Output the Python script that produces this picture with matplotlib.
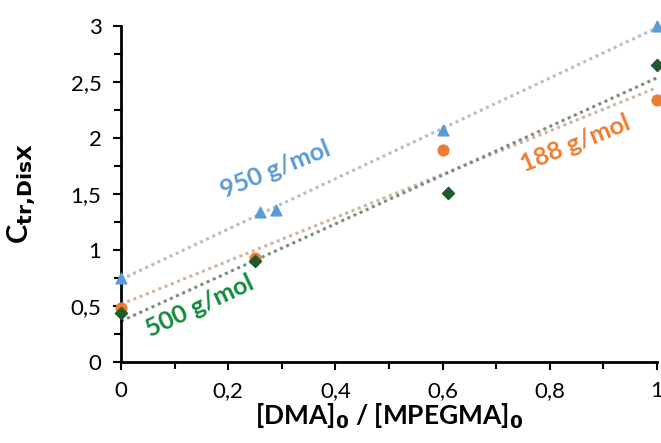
import matplotlib
matplotlib.use("Agg")
import matplotlib.pyplot as plt
from matplotlib.ticker import MultipleLocator, FuncFormatter
import numpy as np

plt.rcParams['font.family'] = ['Lato', 'DejaVu Sans']

# Données
x_950 = [0, 0.26, 0.29, 0.6, 1.0]
y_950 = [0.75, 1.34, 1.36, 2.07, 3.0]
x_188 = [0, 0.25, 0.6, 1.0]
y_188 = [0.48, 0.93, 1.89, 2.34]
x_500 = [0, 0.25, 0.61, 1.0]
y_500 = [0.44, 0.90, 1.51, 2.65]

blue = '#5B9BD5'
orange = '#ED7D31'
green_mk = '#1F5A2E'
green_txt = '#128A3C'

fig = plt.figure(figsize=(6.61, 4.43), dpi=100)
ax = fig.add_axes([0.183, 0.183, 0.811, 0.758])

# droites de tendance (régression linéaire)
xx = np.array([0, 1.0])
for xs, ys, c in [(x_950, y_950, '#B3BFCB'), (x_188, y_188, '#D1B39E'), (x_500, y_500, '#7D8C80')]:
    p = np.polyfit(xs, ys, 1)
    ax.plot(xx, np.polyval(p, xx), ls=(0, (1, 1.2)), lw=2.2, color=c, zorder=1)

ax.scatter(x_950, y_950, marker='^', s=60, color=blue, zorder=3, clip_on=False)
ax.scatter(x_188, y_188, marker='o', s=60, color=orange, zorder=3, clip_on=False)
ax.scatter(x_500, y_500, marker='D', s=38, color=green_mk, zorder=4, clip_on=False)

ax.text(0.18, 1.72, '950 g/mol', color=blue, fontsize=18, fontweight='bold',
        rotation=22, ha='left', va='center')
ax.text(0.74, 1.95, '188 g/mol', color=orange, fontsize=18, fontweight='bold',
        rotation=22, ha='left', va='center')
ax.text(0.04, 0.50, '500 g/mol', color=green_txt, fontsize=18, fontweight='bold',
        rotation=25, ha='left', va='center')

ax.set_xlim(0, 1)
ax.set_ylim(0, 3)
ax.xaxis.set_major_locator(MultipleLocator(0.2))
ax.xaxis.set_minor_locator(MultipleLocator(0.1))
ax.yaxis.set_major_locator(MultipleLocator(0.5))
ax.yaxis.set_minor_locator(MultipleLocator(0.25))

fmt = FuncFormatter(lambda v, pos: ('%g' % round(v, 2)).replace('.', ','))
ax.xaxis.set_major_formatter(fmt)
ax.yaxis.set_major_formatter(fmt)

for s in ['top', 'right']:
    ax.spines[s].set_visible(False)
for s in ['left', 'bottom']:
    ax.spines[s].set_linewidth(2)
ax.tick_params(which='major', direction='out', length=6, width=1.5, labelsize=16, pad=8)
ax.tick_params(which='minor', direction='out', length=5, width=1.5)

ax.set_xlabel(r'[DMA]$_\mathbf{0}$ / [MPEGMA]$_\mathbf{0}$', fontsize=19, fontweight='bold', labelpad=0)
ax.set_ylabel(r'C$_\mathbf{tr{,}DisX}$', fontsize=21, fontweight='bold')
ax.yaxis.set_label_coords(-0.155, 0.5)

fig.savefig('out.png', dpi=100)
